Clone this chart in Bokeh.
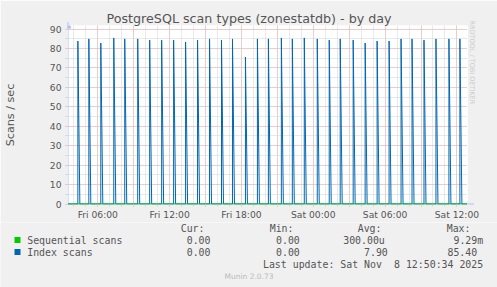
from datetime import datetime, timedelta
from bokeh.plotting import figure
from bokeh.layouts import column
from bokeh.core.properties import value
from bokeh.models import (SingleIntervalTicker, CustomJSTickFormatter, Range1d, Title,
                          Span, Arrow, NormalHead)
from bokeh.embed import file_html
from bokeh.resources import INLINE

# ---------------- data ----------------
title_text = "PostgreSQL scan types (zonestatdb) - by day"
y_label = "Scans / sec"
series_names = ["Sequential scans", "Index scans"]
series_colors = ["#00cc00", "#0066b3"]
stat_headers = ["Cur:", "Min:", "Avg:", "Max:"]
seq_stats = ["0.00", "0.00", "300.00u", "9.29m"]
idx_stats = ["0.00", "0.00", "7.90", "85.40"]
last_update_parts = ["Last update: Sat Nov", "8 12:50:34 2025"]
footer = "Munin 2.0.73"
watermark = "RRDTOOL / TOBI OETIKER"

range_start = "2025-11-07 03:30:34"
range_end = "2025-11-08 12:50:34"

index_spike_times = [
    "2025-11-07 04:20", "2025-11-07 05:15", "2025-11-07 06:15", "2025-11-07 07:20",
    "2025-11-07 08:15", "2025-11-07 09:20", "2025-11-07 10:20", "2025-11-07 11:20",
    "2025-11-07 12:20", "2025-11-07 13:20", "2025-11-07 14:20", "2025-11-07 15:20",
    "2025-11-07 16:20", "2025-11-07 17:15", "2025-11-07 18:20", "2025-11-07 19:20",
    "2025-11-07 20:15", "2025-11-07 21:20", "2025-11-07 22:15", "2025-11-07 23:15",
    "2025-11-08 00:20", "2025-11-08 01:20", "2025-11-08 02:15", "2025-11-08 03:20",
    "2025-11-08 04:20", "2025-11-08 05:20", "2025-11-08 06:20", "2025-11-08 07:20",
    "2025-11-08 08:15", "2025-11-08 09:15", "2025-11-08 10:15", "2025-11-08 11:20",
    "2025-11-08 12:15",
]
index_spike_peaks = [
    83.8, 84.9, 82.8, 85.4, 84.9, 84.9, 84.3, 84.3, 84.3, 83.3, 84.3, 84.9,
    84.3, 84.9, 75.6, 84.9, 84.9, 85.4, 84.9, 85.4, 84.9, 84.3, 84.9, 84.3,
    82.8, 83.8, 83.8, 84.9, 84.9, 84.3, 84.9, 84.9, 84.9,
]
seq_times = [range_start, range_end]
seq_values = [0.0, 0.0]

# ---------------- helpers ----------------
def dt(s):
    fmt = "%Y-%m-%d %H:%M:%S" if s.count(":") == 2 else "%Y-%m-%d %H:%M"
    return datetime.strptime(s, fmt)

t0 = dt(range_start)
t1 = dt(range_end)
step = timedelta(minutes=5)

idx_x = [t0]
idx_y = [0.0]
for ts, pk in zip(index_spike_times, index_spike_peaks):
    t = dt(ts)
    idx_x += [t, t, t + 2 * step]
    idx_y += [0.0, pk, 0.0]
idx_x.append(t1)
idx_y.append(0.0)
seq_x = [dt(s) for s in seq_times]

FONT = "DejaVu Sans"
MONO = "DejaVu Sans Mono"
TXT = "#555555"
AXIS_C = "#b4c0f4"
MGRID = "#eab0b0"
GRID = "#d2d2d2"
BG = "#f0f0f0"

W = 497
H_MAIN = 222
H_LEG = 287 - H_MAIN

px_y = 175.0 / 90.0
p = figure(width=W, height=H_MAIN, x_axis_type="datetime", output_backend="svg",
           toolbar_location=None,
           x_range=Range1d(t0 - step / 2, t1 + step / 2),
           y_range=Range1d(-0.5 / px_y, 90 + 3.5 / px_y),
           min_border_left=66, min_border_right=30, min_border_top=25,
           min_border_bottom=H_MAIN - 204)
p.frame_align = False
p.background_fill_color = "#ffffff"
p.border_fill_color = BG
p.outline_line_color = None

# title
ttl = Title(text=title_text, align="left", offset=39, standoff=0, vertical_align="bottom",
            text_font=FONT, text_font_size="12.7px", text_color=TXT, text_font_style="normal")
p.add_layout(ttl, "above")
# watermark
wm = Title(text=watermark, align="left", offset=-5, standoff=0,
           text_font=FONT, text_font_size="6.5px", text_color="#cccccc", text_font_style="normal")
p.add_layout(wm, "right")

# axes / ticks
p.xaxis.ticker = SingleIntervalTicker(interval=3 * 3600 * 1000, num_minor_ticks=3)
p.xaxis.formatter = CustomJSTickFormatter(code="""
const d = new Date(tick);
const h = d.getUTCHours();
const m = d.getUTCMinutes();
if (h % 6 !== 0 || m !== 0) { return ""; }
const days = ["Sun","Mon","Tue","Wed","Thu","Fri","Sat"];
return days[d.getUTCDay()] + " " + (h < 10 ? "0" + h : "" + h) + ":00";
""")
p.yaxis.ticker = SingleIntervalTicker(interval=10, num_minor_ticks=2)
for ax in (p.xaxis, p.yaxis):
    ax.axis_line_color = None
    ax.major_tick_line_color = MGRID
    ax.major_tick_in = 0
    ax.major_tick_out = 2
    ax.minor_tick_line_color = GRID
    ax.minor_tick_in = 0
    ax.minor_tick_out = 2
    ax.major_label_text_font = FONT
    ax.major_label_text_font_size = "9.2px"
    ax.major_label_text_color = TXT
p.xaxis.major_label_standoff = 2
p.yaxis.major_label_standoff = 4
p.yaxis.axis_label = y_label
p.yaxis.axis_label_text_font = FONT
p.yaxis.axis_label_text_font_size = "11.2px"
p.yaxis.axis_label_text_font_style = "normal"
p.yaxis.axis_label_text_color = TXT
p.yaxis.axis_label_standoff = 30

for g in (p.xgrid, p.ygrid):
    g.grid_line_color = MGRID
    g.grid_line_dash = "1 1"
    g.minor_grid_line_color = GRID
    g.minor_grid_line_dash = "1 1"

# axis lines + arrows
p.add_layout(Span(location=0, dimension="width", line_color=AXIS_C, line_width=1, level="underlay"))
p.add_layout(Span(location=t0, dimension="height", line_color=AXIS_C, line_width=1, level="underlay"))
p.add_layout(Arrow(end=NormalHead(size=6, fill_color=AXIS_C, line_color=AXIS_C),
                   x_start=t1, y_start=0, x_end=t1 + 7 * step, y_end=0,
                   line_color=AXIS_C, line_width=1))
p.add_layout(Arrow(end=NormalHead(size=6, fill_color=AXIS_C, line_color=AXIS_C),
                   x_start=t0, y_start=90, x_end=t0, y_end=90 + 7 / px_y,
                   line_color=AXIS_C, line_width=1))

# series
p.line(idx_x, idx_y, line_color=series_colors[1], line_width=1)
p.line(seq_x, seq_values, line_color=series_colors[0], line_width=1)

# ---------------- legend panel (canvas-like coordinates) ----------------
lg = figure(width=W, height=H_LEG, output_backend="svg", toolbar_location=None,
            x_range=Range1d(0, W), y_range=Range1d(287, H_MAIN),
            x_axis_location=None, y_axis_location=None, min_border=0)
lg.frame_align = False
lg.background_fill_color = BG
lg.border_fill_color = BG
lg.outline_line_color = None
lg.grid.visible = False

DY = -3.5
col_ends = [204, 293, 381, 470]
lg.text(x=col_ends, y=[231 + DY] * 4, text=stat_headers, text_font=value(MONO),
        text_font_size="9.9px", text_color=TXT, text_align="right", text_baseline="alphabetic")

seq_ends = [210, 299.3, 384.3, 482.7]
idx_ends = [210, 299.3, 387.3, 476.7]
rows = [(series_names[0], series_colors[0], seq_stats, seq_ends, 243),
        (series_names[1], series_colors[1], idx_stats, idx_ends, 255)]
for name, col, stats, ends, yb in rows:
    lg.quad(left=[14], right=[20], top=[yb - 6.5], bottom=[yb - 0.5], fill_color=col, line_color=None)
    lg.text(x=[26.7], y=[yb + DY], text=[name], text_font=value(MONO), text_font_size="9.9px",
            text_color=TXT, text_align="left", text_baseline="alphabetic")
    lg.text(x=ends, y=[yb + DY] * len(ends), text=stats, text_font=value(MONO), text_font_size="9.9px",
            text_color=TXT, text_align="right", text_baseline="alphabetic")

CH = 9.9 * 0.602
lg.text(x=[482.7 - 17 * CH, 482.7], y=[267 + DY] * 2, text=last_update_parts, text_font=value(MONO),
        text_font_size="9.9px", text_color=TXT, text_align="right", text_baseline="alphabetic")
lg.text(x=[248.5], y=[279 + DY], text=[footer], text_font=value(FONT), text_font_size="7.5px",
        text_color="#bbbbbb", text_align="center", text_baseline="alphabetic")

layout = column(p, lg, spacing=0)
open("out.html", "w").write(file_html(layout, INLINE))
